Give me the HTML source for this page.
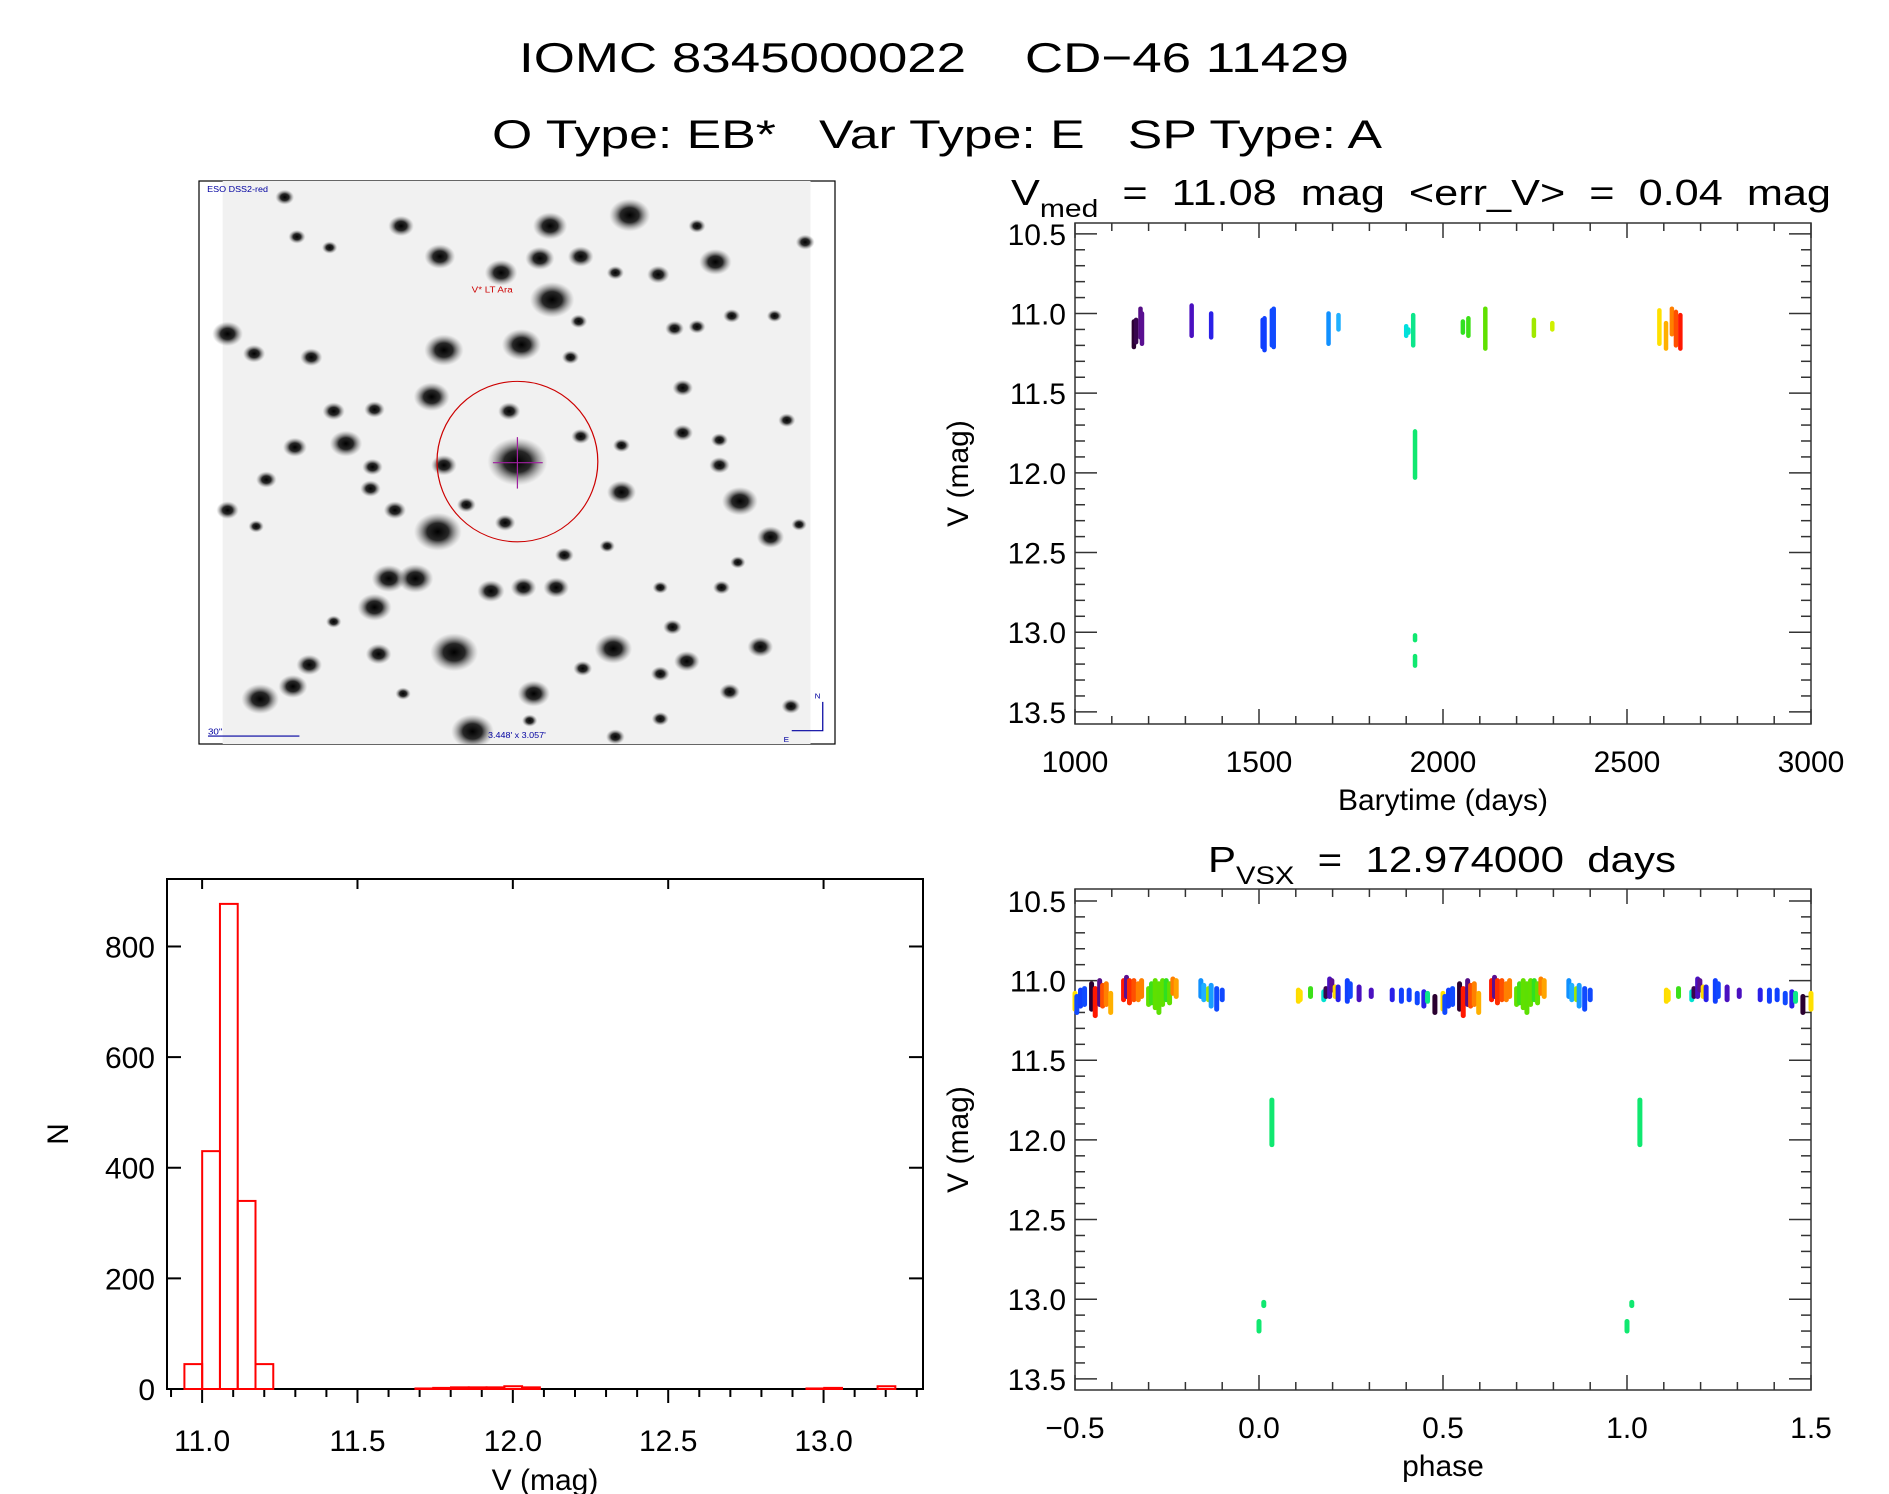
<!DOCTYPE html>
<html><head><meta charset="utf-8"><style>
html,body{margin:0;padding:0;background:#fff;}
svg{display:block;font-family:"Liberation Sans",sans-serif;}
text{white-space:pre;}
</style></head><body>
<svg id="fig" width="1889" height="1494" viewBox="0 0 1889 1494" xmlns="http://www.w3.org/2000/svg">
<defs>
<radialGradient id="starg"><stop offset="0" stop-color="#000" stop-opacity="1"/><stop offset="0.45" stop-color="#111" stop-opacity="0.9"/><stop offset="1" stop-color="#888" stop-opacity="0"/></radialGradient>
</defs>
<rect width="1889" height="1494" fill="#fff"/>
<text x="934" y="72" font-size="42" text-anchor="middle" textLength="830" lengthAdjust="spacingAndGlyphs">IOMC 8345000022    CD−46 11429</text>
<text x="937" y="148" font-size="40" text-anchor="middle" textLength="890" lengthAdjust="spacingAndGlyphs">O Type: EB*   Var Type: E   SP Type: A</text>

<g id="img">
<rect x="199" y="181" width="636" height="563" fill="#fff" stroke="#000" stroke-width="1.2"/>
<svg id="sky" x="199" y="181" width="636" height="563" viewBox="0 0 1558 1565" preserveAspectRatio="none"></svg>
</g>

<g id="lc"></g>
<g id="ph"></g>
<g id="hist"></g>
</svg>
<script>
// ---------- light curve data ----------
const lcTime = [1160,1166,1178,1182,1317,1370,1510,1515,1535,1540,1689,1716,1900,1906,1919,1924,1924,1924,2054,2069,2115,2247,2297,2588,2606,2622,2633,2645];
const lcLo   = [11.05,11.04,10.97,11.00,10.95,11.00,11.04,11.03,10.98,10.97,11.00,11.01,11.08,11.10,11.01,11.74,13.02,13.15,11.05,11.03,10.97,11.04,11.06,10.98,11.06,10.97,10.99,11.01];
const lcHi   = [11.21,11.18,11.15,11.19,11.14,11.15,11.21,11.23,11.20,11.21,11.19,11.10,11.14,11.12,11.20,12.03,13.05,13.21,11.12,11.14,11.22,11.14,11.10,11.19,11.22,11.13,11.20,11.22];
const lcXTicks = [1000,1500,2000,2500,3000];
const magTicks = [10.5,11.0,11.5,12.0,12.5,13.0,13.5];
// ---------- phase data ----------
const phPhase = [0.500,0.505,0.515,0.526,0.545,0.555,0.567,0.575,0.585,0.597,0.632,0.640,0.648,0.660,0.672,0.681,0.700,0.708,0.718,0.728,0.738,0.748,0.757,0.766,0.775,0.842,0.850,0.863,0.870,0.885,0.900,0.107,0.112,0.140,0.176,0.182,0.192,0.198,0.207,0.215,0.240,0.248,0.272,0.305,0.362,0.387,0.408,0.430,0.448,0.458,0.478,0.035,0.013,0.000];
const phLo = [11.08,11.10,11.06,11.05,11.02,11.05,11.00,11.03,11.02,11.08,11.00,10.98,11.00,11.00,11.02,11.00,11.05,11.02,11.00,11.02,11.00,11.00,11.02,10.99,11.00,11.00,11.03,11.05,11.03,11.05,11.06,11.06,11.07,11.05,11.07,11.05,10.99,11.00,11.04,11.04,11.00,11.02,11.04,11.06,11.06,11.06,11.06,11.08,11.07,11.08,11.10,11.75,13.02,13.14];
const phHi = [11.18,11.20,11.16,11.15,11.18,11.22,11.15,11.16,11.15,11.20,11.12,11.10,11.14,11.12,11.12,11.10,11.15,11.14,11.17,11.20,11.15,11.12,11.14,11.08,11.10,11.10,11.12,11.12,11.16,11.18,11.12,11.13,11.12,11.10,11.12,11.10,11.10,11.06,11.10,11.12,11.13,11.10,11.12,11.10,11.12,11.13,11.12,11.14,11.16,11.13,11.20,12.03,13.04,13.20];
const phEpoch = [2588,1535,1515,1540,1160,2645,1178,2633,2622,2606,2645,1182,2640,2633,2622,2622,2115,2069,2115,2110,2115,2054,2115,2622,2610,1689,1716,2247,1700,1540,1535,2590,2588,2069,1906,1166,1317,1182,2590,1370,1515,1535,1317,1317,1370,1510,1515,1535,1370,1919,1160,1924,1924,1924];
const phXTicks = [-0.5,0.0,0.5,1.0,1.5];
// ---------- histogram data ----------
const binStart = 10.943, binWidth = 0.0572;
const histCounts = [45,430,877,340,45,0,0,0,0,0,0,0,0,1,2,3,3,3,5,3,0,0,0,0,0,0,0,0,0,0,0,0,0,0,0,1,2,0,0,5,0];
const histXTicks = [11.0,11.5,12.0,12.5,13.0];
const histYTicks = [0,200,400,600,800];

const NS='http://www.w3.org/2000/svg';
function mk(parent,tag,attrs){const e=document.createElementNS(NS,tag);for(const k in attrs)e.setAttribute(k,attrs[k]);parent.appendChild(e);return e;}
function txt(parent,x,y,s,size,anchor){const t=mk(parent,'text',{x:x,y:y,'font-size':size,'text-anchor':anchor||'middle'});t.textContent=s;return t;}

const cmapT=[1160,1180,1317,1370,1515,1689,1716,1903,1924,2054,2115,2247,2297,2588,2606,2622,2633,2645];
const cmapC=['#2a0030','#5a1090','#4a10c0','#2a20e8','#1040ff','#1090ff','#20b0ff','#00e0e0','#10e870','#30e020','#60e000','#a0e800','#d0f000','#ffe000','#ffb000','#ff8000','#ff5000','#ff1800'];
function hex2(h){return [parseInt(h.substr(1,2),16),parseInt(h.substr(3,2),16),parseInt(h.substr(5,2),16)];}
function color(t){
  if(t<=cmapT[0])return cmapC[0];
  for(let i=1;i<cmapT.length;i++){if(t<=cmapT[i]){const f=(t-cmapT[i-1])/(cmapT[i]-cmapT[i-1]);const a=hex2(cmapC[i-1]),b=hex2(cmapC[i]);return 'rgb('+a.map((v,j)=>Math.round(v+(b[j]-v)*f)).join(',')+')';}}
  return cmapC[cmapC.length-1];
}

function magAxes(g,L,R,T,B,magTop,magBot,xmin,xmax,xticks,xminor,xfmt,xlabel,title,sub,titleY,titleX,titleLen,nameP){
  const sx=v=>L+(v-xmin)/(xmax-xmin)*(R-L);
  const sy=m=>T+(m-magTop)/(magBot-magTop)*(B-T);
  const fr=mk(g,'rect',{x:L,y:T,width:R-L,height:B-T,fill:'none',stroke:'#333','stroke-width':1.5});
  
  
  for(let v=xmin;v<=xmax+1e-9;v+=xminor){
    const major=xticks.some(t=>Math.abs(t-v)<1e-6);const len=major?15:8;const x=sx(v);
    mk(g,'line',{x1:x,y1:B,x2:x,y2:B-len,stroke:'#333','stroke-width':1.5});
    mk(g,'line',{x1:x,y1:T,x2:x,y2:T+len,stroke:'#333','stroke-width':1.5});
  }
  xticks.forEach(v=>{const t=txt(g,sx(v),B+48,xfmt(v),30);
    
    });
  for(let m=10.5;m<=13.5+1e-9;m+=0.1){
    const major=Math.abs(m*2-Math.round(m*2))<1e-6;const len=major?22:10;const y=sy(m);
    mk(g,'line',{x1:L,y1:y,x2:L+len,y2:y,stroke:'#333','stroke-width':1.5});
    mk(g,'line',{x1:R,y1:y,x2:R-len,y2:y,stroke:'#333','stroke-width':1.5});
  }
  magTicks.forEach(m=>{const t=txt(g,L-9,sy(m)+11,m.toFixed(1),30,'end');
    
    });
  const xl=txt(g,(L+R)/2,B+86,xlabel,30);
  
  
  const yl=txt(g,0,0,'V (mag)',30);
  yl.setAttribute('transform','translate('+(L-107)+','+((T+B)/2)+') rotate(-90)');
  
  
  const tt=mk(g,'text',{x:titleX,y:titleY,'font-size':36,'text-anchor':'middle',textLength:titleLen,lengthAdjust:'spacingAndGlyphs'});
  const t1=mk(tt,'tspan',{});t1.textContent=title[0];
  const t2=mk(tt,'tspan',{'font-size':25,dy:12});t2.textContent=sub;
  const t3=mk(tt,'tspan',{dy:-12});t3.textContent=title[1];
  
  
  return {sx,sy};
}

// ---------- light curve ----------
(function(){
  const g=document.getElementById('lc');
  const a=magAxes(g,1075,1811,223,724,10.432,13.576,1000,3000,lcXTicks,100,v=>String(v),'Barytime (days)',['V','  =  11.08  mag  <err_V>  =  0.04  mag'],'med',205,1421,820,'lc');
  lcTime.forEach((t,i)=>{
    const x=a.sx(t);const c=color(t);
    const s=mk(g,'line',{x1:x,y1:a.sy(lcLo[i]),x2:x,y2:a.sy(lcHi[i]),stroke:c,'stroke-width':4.5,'stroke-linecap':'round'});
    
    
  });
})();

// ---------- phase plot ----------
(function(){
  const g=document.getElementById('ph');
  const a=magAxes(g,1075,1811,889,1390,10.425,13.57,-0.5,1.5,phXTicks,0.1,v=>(v<0?'−':'')+Math.abs(v).toFixed(1),'phase',['P','  =  12.974000  days'],'VSX',872,1442,468,'ph');
  phPhase.forEach((p,i)=>{
    [p-1,p,p+1].forEach(q=>{
      if(q<-0.5||q>1.5)return;
      const x=a.sx(q);
      const s=mk(g,'line',{x1:x,y1:a.sy(phLo[i]),x2:x,y2:a.sy(phHi[i]),stroke:color(phEpoch[i]),'stroke-width':5,'stroke-linecap':'round'});
      
      
    });
  });
})();

// ---------- histogram ----------
(function(){
  const g=document.getElementById('hist');
  const L=167,R=923,T=879,B=1389,xmin=10.887,xmax=13.32,ymax=922;
  const sx=v=>L+(v-xmin)/(xmax-xmin)*(R-L);
  const sy=n=>B-n/ymax*(B-T);
  const fr=mk(g,'rect',{x:L,y:T,width:R-L,height:B-T,fill:'none',stroke:'#000','stroke-width':2});
  
  
  for(let v=10.9;v<=13.3+1e-9;v+=0.1){
    const major=histXTicks.some(t=>Math.abs(t-v)<1e-6);const x=sx(v);
    mk(g,'line',{x1:x,y1:B,x2:x,y2:B+(major?14:8),stroke:'#000','stroke-width':2});
    if(major)mk(g,'line',{x1:x,y1:T,x2:x,y2:T+10,stroke:'#000','stroke-width':2});
  }
  histXTicks.forEach(v=>{const t=txt(g,sx(v),B+62,v.toFixed(1),30);
    
    });
  histYTicks.forEach(n=>{const y=sy(n);
    mk(g,'line',{x1:L,y1:y,x2:L+14,y2:y,stroke:'#000','stroke-width':2});
    mk(g,'line',{x1:R,y1:y,x2:R-14,y2:y,stroke:'#000','stroke-width':2});
    const t=txt(g,L-12,y+11,String(n),30,'end');
    
    });
  const xl=txt(g,(L+R)/2,1490,'V (mag)',30);
  
  
  const yl=txt(g,0,0,'N',30);
  yl.setAttribute('transform','translate(68,1134) rotate(-90)');
  
  
  histCounts.forEach((n,i)=>{
    const x0=sx(binStart+i*binWidth),x1=sx(binStart+(i+1)*binWidth);
    const r=mk(g,'rect',{x:x0,y:sy(n),width:x1-x0,height:B-sy(n),fill:'none',stroke:'#ff0000','stroke-width':2});
    
    
  });
})();

// ---------- sky image ----------
(function(){
  const s=document.getElementById('sky');
  mk(s,'rect',{x:58,y:0,width:1440,height:1565,fill:'#f1f1f1'});
  const stars=[[1055,95,48],[860,125,40],[495,125,30],[590,210,36],[740,255,38],[835,215,34],[935,210,30],[1265,225,38],[1125,260,26],[865,330,52],[600,470,46],[790,455,46],[70,425,36],[135,480,26],[275,490,26],[570,600,42],[330,640,26],[430,635,24],[235,740,28],[360,730,38],[425,795,24],[420,855,24],[600,790,30],[760,640,26],[780,780,70],[1035,865,34],[1325,890,42],[1185,575,24],[1185,700,24],[1275,790,24],[1400,990,32],[585,975,56],[480,915,26],[465,1105,40],[530,1105,42],[715,1140,32],[795,1130,30],[875,1130,30],[430,1185,40],[625,1310,56],[440,1315,30],[270,1345,30],[230,1405,34],[150,1440,44],[820,1425,38],[1015,1300,44],[1195,1335,30],[1375,1295,30],[1300,1420,24],[1450,1460,22],[670,1530,50],[1160,1240,22],[940,1355,22],[1130,1370,22],[165,830,24],[70,915,26],[210,45,22],[1220,125,20],[1165,410,22],[1305,375,20],[1485,170,22],[240,155,20],[930,390,20],[910,490,20],[1280,1130,20],[1020,255,20],[1220,405,20],[1440,665,20],[1275,720,20],[935,710,22],[655,900,22],[750,950,24],[895,1040,22],[1130,1130,18],[1000,1015,18],[1470,955,18],[330,1225,18],[140,960,18],[1130,1495,20],[1020,1545,22],[810,1500,18],[500,1425,18],[1320,1060,18],[320,185,18],[1410,375,18],[1035,735,20]];
  stars.forEach(st=>{
    const c=mk(s,'ellipse',{cx:st[0],cy:st[1],rx:st[2]*1.05,ry:st[2]*0.95,fill:'url(#starg)'});
    
    
  });
  mk(s,'ellipse',{cx:780,cy:780,rx:197,ry:223,fill:'none',stroke:'#c00','stroke-width':3});
  mk(s,'line',{x1:720,y1:783,x2:842,y2:783,stroke:'#a020a0','stroke-width':3});
  mk(s,'line',{x1:780,y1:712,x2:780,y2:855,stroke:'#a020a0','stroke-width':3});
  const lab=mk(s,'text',{x:668,y:310,'font-size':24,fill:'#c00'});lab.textContent='V* LT Ara';
  const src=mk(s,'text',{x:20,y:30,'font-size':22,fill:'#0000a0'});src.textContent='ESO DSS2-red';
  const fov=mk(s,'text',{x:708,y:1548,'font-size':22,fill:'#0000a0'});fov.textContent='3.448\' x 3.057\'';
  const sc=mk(s,'text',{x:22,y:1538,'font-size':24,fill:'#0000a0'});sc.textContent='30"';
  mk(s,'line',{x1:22,y1:1543,x2:246,y2:1543,stroke:'#0000a0','stroke-width':3});
  mk(s,'polyline',{points:'1528,1448 1528,1528 1452,1528',fill:'none',stroke:'#0000a0','stroke-width':3});
  const n=mk(s,'text',{x:1508,y:1438,'font-size':20,fill:'#0000a0'});n.textContent='N';
  const e=mk(s,'text',{x:1432,y:1560,'font-size':20,fill:'#0000a0'});e.textContent='E';
})();
</script>
</body></html>
